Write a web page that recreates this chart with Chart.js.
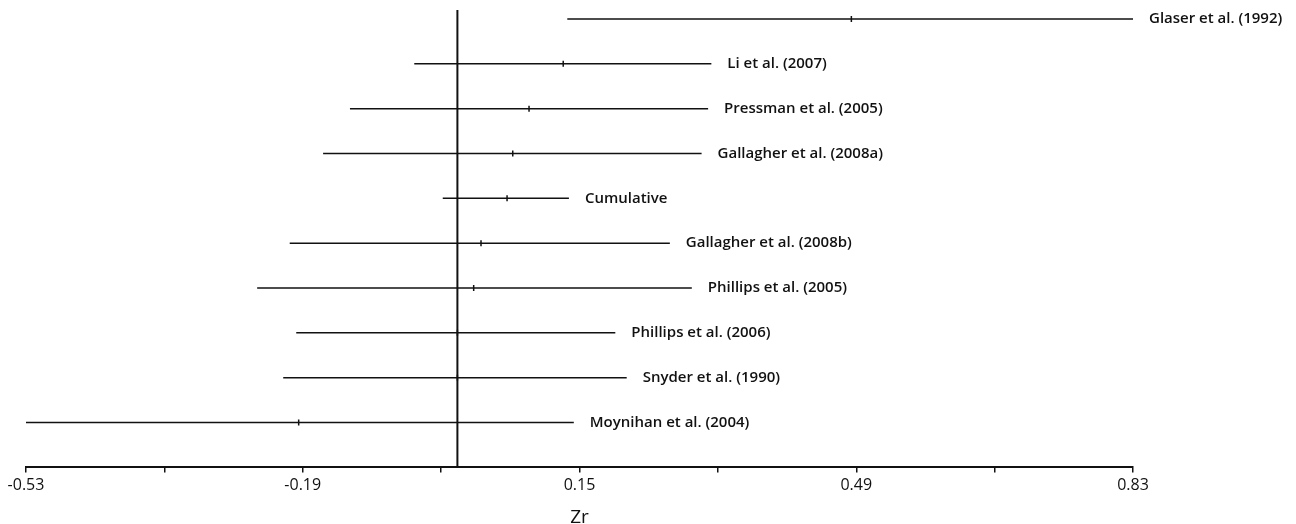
<!DOCTYPE html>
<html>
<head>
<meta charset="utf-8">
<script src="https://cdn.jsdelivr.net/npm/chart.js@4/dist/chart.umd.min.js"></script>
<style>
  html, body { margin: 0; padding: 0; background: #fff; }
  #wrap { width: 1296px; height: 524px; }
</style>
</head>
<body>
<div id="wrap"><canvas id="forest"></canvas></div>
<script>
// Studies, top to bottom
const studies = [
    'Glaser et al. (1992)',
    'Li et al. (2007)',
    'Pressman et al. (2005)',
    'Gallagher et al. (2008a)',
    'Cumulative',
    'Gallagher et al. (2008b)',
    'Phillips et al. (2005)',
    'Phillips et al. (2006)',
    'Snyder et al. (1990)',
    'Moynihan et al. (2004)'
];
// Zr estimates and confidence limits
const zrLower = [0.135, -0.053, -0.132, -0.165, -0.018, -0.206, -0.246, -0.198, -0.214, -0.53];
const zrPoint = [0.484, 0.130, 0.088, 0.068, 0.061, 0.029, 0.020, 0.0, 0.0, -0.195];
const zrUpper = [0.83, 0.312, 0.308, 0.300, 0.137, 0.261, 0.288, 0.194, 0.208, 0.143];

// x axis ticks (labelled every other one)
const tickValues = [-0.53, -0.36, -0.19, -0.02, 0.15, 0.32, 0.49, 0.66, 0.83];
const tickLabels = ['-0.53', '', '-0.19', '', '0.15', '', '0.49', '', '0.83'];

const FONT = '"Open Sans", "DejaVu Sans", sans-serif';

// one line per study for the interval
const intervalSets = studies.map((s, i) => ({
    type: 'line',
    label: s,
    data: [{ x: zrLower[i], y: i }, { x: zrUpper[i], y: i }],
    borderColor: '#111',
    borderWidth: 1.5,
    pointRadius: 0,
    fill: false
}));

// study label next to the upper limit
const studyLabels = {
    id: 'studyLabels',
    afterDatasetsDraw(chart) {
        const ctx = chart.ctx;
        const xs = chart.scales.x, ys = chart.scales.y;
        ctx.save();
        ctx.font = '600 15px ' + FONT;
        ctx.fillStyle = '#111';
        ctx.textAlign = 'left';
        ctx.textBaseline = 'middle';
        studies.forEach((s, i) => {
            ctx.fillText(s, xs.getPixelForValue(zrUpper[i]) + 16, ys.getPixelForValue(i));
        });
        ctx.restore();
    }
};

new Chart(document.getElementById('forest'), {
    type: 'scatter',
    data: {
        datasets: [
            {
                type: 'line',
                label: 'zero',
                data: [{ x: 0, y: -0.2 }, { x: 0, y: 10 }],
                borderColor: '#111',
                borderWidth: 2,
                pointRadius: 0
            },
            ...intervalSets,
            {
                type: 'scatter',
                label: 'Zr',
                data: zrPoint.map((v, i) => ({ x: v, y: i })),
                pointStyle: 'line',
                rotation: 90,
                radius: 3,
                borderColor: '#111',
                borderWidth: 1.5,
                backgroundColor: '#111'
            }
        ]
    },
    options: {
        responsive: true,
        maintainAspectRatio: false,
        animation: false,
        layout: { padding: { left: 26, right: 163, top: 10, bottom: 0 } },
        plugins: {
            legend: { display: false },
            tooltip: { enabled: false }
        },
        scales: {
            x: {
                type: 'linear',
                min: -0.53,
                max: 0.83,
                afterBuildTicks: (scale) => {
                    scale.ticks = tickValues.map(v => ({ value: v }));
                },
                ticks: {
                    autoSkip: false,
                    maxRotation: 0,
                    padding: 4,
                    color: '#111',
                    font: { family: FONT, size: 16, lineHeight: 1.1 },
                    callback: (v, idx) => tickLabels[idx]
                },
                grid: {
                    drawOnChartArea: false,
                    drawTicks: true,
                    tickLength: 5,
                    color: '#111',
                    lineWidth: 1.5
                },
                border: { display: true, color: '#111', width: 2 },
                title: {
                    display: true,
                    text: 'Zr',
                    color: '#111',
                    font: { family: FONT, size: 19, lineHeight: 1 },
                    padding: { top: 10, bottom: -3 }
                }
            },
            y: {
                type: 'linear',
                reverse: true,
                min: -0.2,
                max: 10,
                display: false
            }
        }
    },
    plugins: [studyLabels]
});
</script>
</body>
</html>
